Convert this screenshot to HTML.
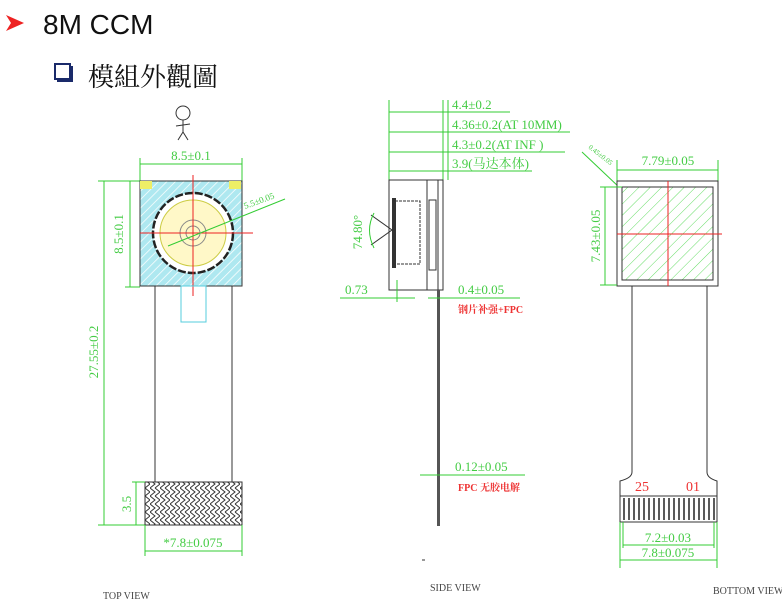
<!DOCTYPE html>
<html><head><meta charset="utf-8"><style>
html,body{margin:0;padding:0;background:#fff;}
svg{display:block;}
.g{stroke:#3c3;stroke-width:1;fill:none}
.k{stroke:#333;stroke-width:1;fill:none}
.gt{fill:#4c4;font-family:"Liberation Serif","Noto Serif CJK SC",serif;font-size:13px}
.rt{fill:#e33;font-family:"Liberation Serif","Noto Serif CJK SC",serif;font-size:10px;font-weight:bold}
.bt{fill:#444;font-family:"Liberation Serif",serif;font-size:10px}
</style></head><body>
<svg width="782" height="609" viewBox="0 0 782 609" xmlns="http://www.w3.org/2000/svg">
<defs>
<pattern id="hc" width="6" height="6" patternUnits="userSpaceOnUse" patternTransform="rotate(45)"><rect width="6" height="6" fill="#aee8f0"/><line x1="0" y1="0" x2="0" y2="6" stroke="#fff" stroke-width="1.5"/></pattern>
<pattern id="hg" width="8" height="8" patternUnits="userSpaceOnUse" patternTransform="rotate(45)"><line x1="0" y1="0" x2="0" y2="8" stroke="#6d6" stroke-width="1"/></pattern>
<pattern id="hw" width="10" height="8" patternUnits="userSpaceOnUse"><path d="M0 0 L5 4 L0 8 M5 0 L10 4 L5 8" stroke="#333" fill="none" stroke-width="1"/></pattern>
</defs>
<!-- header -->
<polygon points="6,15 24,23 6,31 11,23" fill="#e22"/>
<text x="43" y="34" font-family="Liberation Sans,sans-serif" font-size="28" fill="#111">8M CCM</text>
<rect x="57" y="66" width="16" height="16" fill="#1a2a6a"/>
<rect x="55" y="64" width="15" height="15" fill="#fff" stroke="#1a2a6a" stroke-width="2"/>
<text x="88" y="86" font-family="'Liberation Serif','Noto Serif CJK SC',serif" font-size="26" fill="#111">模組外觀圖</text>

<!-- TOP VIEW -->
<circle cx="183" cy="113" r="7" class="k"/><path d="M183 120 L183 132 M176 126 L190 124 M183 132 L178 140 M183 132 L188 140" class="k"/>
<line x1="140" y1="158" x2="140" y2="181" class="g"/><line x1="242" y1="158" x2="242" y2="181" class="g"/>
<line x1="140" y1="164" x2="242" y2="164" class="g"/>
<text x="191" y="160" class="gt" text-anchor="middle">8.5±0.1</text>
<line x1="98" y1="181" x2="242" y2="181" class="g"/>
<line x1="98" y1="525" x2="145" y2="525" class="g"/>
<line x1="104" y1="181" x2="104" y2="525" class="g"/>
<line x1="130" y1="181" x2="130" y2="287" class="g"/>
<line x1="125" y1="287" x2="140" y2="287" class="g"/>
<text transform="translate(123,234) rotate(-90)" class="gt" text-anchor="middle">8.5±0.1</text>
<text transform="translate(98,352) rotate(-90)" class="gt" text-anchor="middle">27.55±0.2</text>
<rect x="140" y="181" width="102" height="105" fill="url(#hc)" stroke="#333"/>
<rect x="140" y="181" width="12" height="8" fill="#ee6"/><rect x="229" y="181" width="12" height="8" fill="#ee6"/>
<circle cx="193" cy="233" r="40" fill="#fff" stroke="#222" stroke-width="2.5" stroke-dasharray="8 2"/>
<circle cx="193" cy="233" r="33" fill="#fff8c8" stroke="#cc4"/>
<circle cx="193" cy="233" r="13" fill="none" stroke="#888"/>
<circle cx="193" cy="233" r="7" fill="none" stroke="#888"/>
<line x1="193" y1="175" x2="193" y2="296" stroke="#e22"/>
<line x1="140" y1="233" x2="253" y2="233" stroke="#e22"/>
<line x1="168" y1="246" x2="285" y2="199" class="g"/>
<text transform="translate(245,209) rotate(-20)" class="gt" style="font-size:9px">5.5±0.05</text>
<line x1="155" y1="286" x2="155" y2="482" class="k"/><line x1="232" y1="286" x2="232" y2="482" class="k"/>
<rect x="181" y="286" width="25" height="36" fill="none" stroke="#5cd"/>
<rect x="145" y="482" width="97" height="43" fill="url(#hw)" stroke="#333"/>
<line x1="136" y1="482" x2="136" y2="525" class="g"/><line x1="132" y1="482" x2="145" y2="482" class="g"/>
<text transform="translate(131,504) rotate(-90)" class="gt" text-anchor="middle">3.5</text>
<line x1="145" y1="525" x2="145" y2="556" class="g"/><line x1="242" y1="525" x2="242" y2="556" class="g"/>
<line x1="145" y1="551" x2="242" y2="551" class="g"/>
<text x="193" y="547" class="gt" text-anchor="middle">*7.8±0.075</text>
<text x="103" y="599" class="bt">TOP VIEW</text>

<!-- SIDE VIEW -->
<line x1="389" y1="100" x2="389" y2="180" class="g"/><line x1="443" y1="100" x2="443" y2="180" class="g"/><line x1="448" y1="100" x2="448" y2="180" class="g"/>
<line x1="389" y1="112" x2="448" y2="112" class="g"/><line x1="448" y1="112" x2="510" y2="112" class="g"/>
<line x1="389" y1="132" x2="570" y2="132" class="g"/>
<line x1="389" y1="152" x2="565" y2="152" class="g"/>
<line x1="389" y1="171" x2="532" y2="171" class="g"/>
<text x="452" y="109" class="gt">4.4±0.2</text>
<text x="452" y="129" class="gt">4.36±0.2(AT 10MM)</text>
<text x="452" y="149" class="gt">4.3±0.2(AT INF )</text>
<text x="452" y="168" class="gt">3.9(马达本体)</text>
<rect x="389" y="180" width="54" height="110" fill="#fff" stroke="#333"/>
<line x1="427" y1="180" x2="427" y2="290" class="k"/><line x1="438" y1="180" x2="438" y2="290" class="k"/>
<rect x="429" y="200" width="7" height="70" class="k"/>
<path d="M395 201 L420 201 L420 264 L395 264 Z" class="k" stroke-dasharray="3 1"/>
<rect x="392" y="198" width="4" height="70" fill="#333"/>
<path d="M371 215 L392 230 L371 245" class="k"/>
<path d="M374 213 Q365 230 374 248" class="g"/>
<text transform="translate(362,232) rotate(-90)" class="gt" text-anchor="middle">74.80°</text>
<rect x="437" y="290" width="3" height="236" fill="#555"/>
<line x1="340" y1="298" x2="415" y2="298" class="g"/><line x1="428" y1="298" x2="520" y2="298" class="g"/>
<line x1="397" y1="280" x2="397" y2="302" class="g"/>
<text x="345" y="294" class="gt">0.73</text>
<text x="458" y="294" class="gt">0.4±0.05</text>
<text x="458" y="313" class="rt">钢片补强+FPC</text>
<line x1="420" y1="475" x2="525" y2="475" class="g"/>
<text x="455" y="471" class="gt">0.12±0.05</text>
<text x="458" y="491" class="rt">FPC 无胶电解</text>
<line x1="422" y1="560" x2="425" y2="560" stroke="#333"/>
<text x="430" y="591" class="bt">SIDE VIEW</text>

<!-- BOTTOM VIEW -->
<line x1="617" y1="160" x2="617" y2="182" class="g"/><line x1="718" y1="160" x2="718" y2="182" class="g"/>
<line x1="617" y1="170" x2="718" y2="170" class="g"/>
<text x="668" y="165" class="gt" text-anchor="middle">7.79±0.05</text>
<line x1="582" y1="152" x2="620" y2="188" class="g"/>
<text transform="translate(588,148) rotate(38)" class="gt" style="font-size:7px">0.45±0.05</text>
<rect x="617" y="181" width="101" height="105" fill="#fff" stroke="#333"/>
<rect x="622" y="187" width="91" height="93" fill="url(#hg)" stroke="#333"/>
<line x1="668" y1="181" x2="668" y2="286" stroke="#e22"/><line x1="617" y1="234" x2="722" y2="234" stroke="#e22"/>
<line x1="605" y1="187" x2="605" y2="285" class="g"/><line x1="600" y1="187" x2="622" y2="187" class="g"/><line x1="600" y1="285" x2="617" y2="285" class="g"/>
<text transform="translate(600,236) rotate(-90)" class="gt" text-anchor="middle">7.43±0.05</text>
<path d="M632 286 L632 472 Q632 478 620 481 L620 496 M707 286 L707 472 Q707 478 717 481 L717 496" class="k"/>
<rect x="620" y="496" width="97" height="26" fill="#fff" stroke="#333"/>
<g stroke="#222" stroke-width="1.5">
<line x1="624" y1="498" x2="624" y2="520"/><line x1="629" y1="498" x2="629" y2="520"/><line x1="634" y1="498" x2="634" y2="520"/><line x1="639" y1="498" x2="639" y2="520"/><line x1="644" y1="498" x2="644" y2="520"/><line x1="649" y1="498" x2="649" y2="520"/><line x1="654" y1="498" x2="654" y2="520"/><line x1="659" y1="498" x2="659" y2="520"/><line x1="664" y1="498" x2="664" y2="520"/><line x1="669" y1="498" x2="669" y2="520"/><line x1="674" y1="498" x2="674" y2="520"/><line x1="679" y1="498" x2="679" y2="520"/><line x1="684" y1="498" x2="684" y2="520"/><line x1="689" y1="498" x2="689" y2="520"/><line x1="694" y1="498" x2="694" y2="520"/><line x1="699" y1="498" x2="699" y2="520"/><line x1="704" y1="498" x2="704" y2="520"/><line x1="709" y1="498" x2="709" y2="520"/><line x1="714" y1="498" x2="714" y2="520"/>
</g>
<text x="635" y="491" fill="#e33" font-family="Liberation Serif,serif" font-size="14">25</text>
<text x="686" y="491" fill="#e33" font-family="Liberation Serif,serif" font-size="14">01</text>
<line x1="620" y1="522" x2="620" y2="568" class="g"/><line x1="717" y1="522" x2="717" y2="568" class="g"/>
<line x1="623" y1="522" x2="623" y2="548" class="g"/><line x1="714" y1="522" x2="714" y2="548" class="g"/>
<line x1="623" y1="545" x2="714" y2="545" class="g"/><line x1="620" y1="560" x2="717" y2="560" class="g"/>
<text x="668" y="542" class="gt" text-anchor="middle">7.2±0.03</text>
<text x="668" y="557" class="gt" text-anchor="middle">7.8±0.075</text>
<text x="713" y="594" class="bt">BOTTOM VIEW</text>
</svg>
</body></html>
